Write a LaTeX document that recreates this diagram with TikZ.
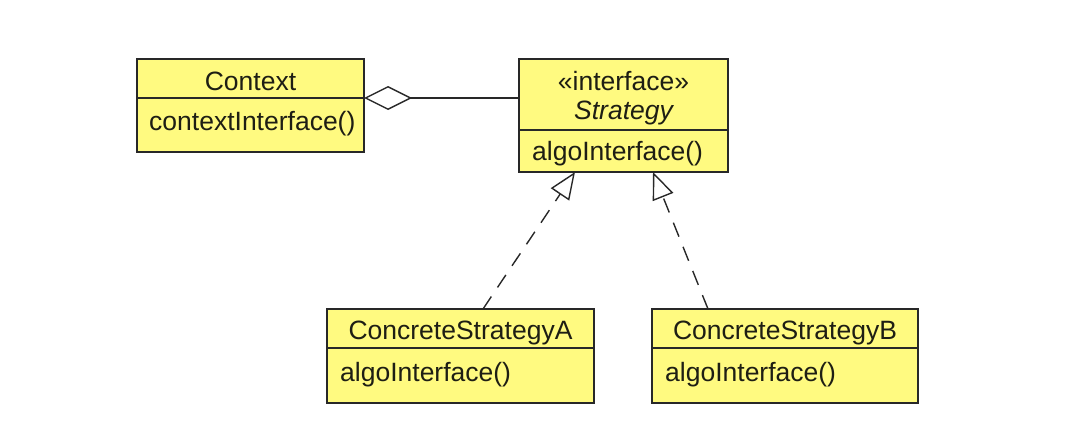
\documentclass[tikz,border=0pt]{standalone}
\usepackage{fontspec}
\setmainfont{Liberation Sans}
\usetikzlibrary{arrows.meta,calc}
\definecolor{umlfill}{RGB}{255,250,128}
\definecolor{umlline}{RGB}{40,40,40}
\definecolor{umltext}{RGB}{30,30,20}
\begin{document}
\begin{tikzpicture}[x=1pt,y=-1pt,
  box/.style={draw=umlline, fill=umlfill, line width=1.4pt, anchor=north west, inner sep=0pt, outer sep=0pt},
  divider/.style={draw=umlline, line width=1.4pt},
  txt/.style={font=\fontsize{26.5}{30}\selectfont, inner sep=0pt, text=umltext},
  aggr/.style={draw=umlline, line width=1.4pt, {Diamond[open,length=48pt,width=24pt,line width=1.4pt]}-},
  real/.style={draw=umlline, line width=1.4pt, dash pattern=on 15pt off 11pt, -{Triangle[open,length=27pt,width=22pt,line width=1.4pt]}}]
\useasboundingbox (0,0) rectangle (1081,428);

% boxes
\node[box, minimum width=227pt, minimum height=93pt] (ctx) at (137,59) {};
\node[box, minimum width=209pt, minimum height=113pt] (strat) at (519,59) {};
\node[box, minimum width=267pt, minimum height=94pt] (csa) at (327,309) {};
\node[box, minimum width=266pt, minimum height=94pt] (csb) at (652,309) {};

% dividers
\draw[divider] (ctx.west |- 0,98) -- (ctx.east |- 0,98);
\draw[divider] (strat.west |- 0,130) -- (strat.east |- 0,130);
\draw[divider] (csa.west |- 0,348) -- (csa.east |- 0,348);
\draw[divider] (csb.west |- 0,348) -- (csb.east |- 0,348);

% texts
\node[txt, anchor=base] (ctxname) at (250.5,90) {Context};
\node[txt, anchor=base west] (ctxop) at (149,130) {contextInterface()};
\node[txt, anchor=base] (stereo) at (623.5,90) {«interface»};
\node[txt, anchor=base] (stratname) at (623.5,119) {\itshape Strategy};
\node[txt, anchor=base west] (stratop) at (532,160) {algoInterface()};
\node[txt, anchor=base] (csaname) at (460.5,339) {ConcreteStrategyA};
\node[txt, anchor=base west] (csaop) at (340,381) {algoInterface()};
\node[txt, anchor=base] (csbname) at (785,339) {ConcreteStrategyB};
\node[txt, anchor=base west] (csbop) at (665,381) {algoInterface()};

% connectors
\coordinate (aggL) at ([yshift=-39pt]ctx.north east);
\draw[aggr] (aggL) -- (aggL -| strat.west);
\draw[real] ([xshift=22.5pt]csa.north) -- ([xshift=-48.5pt]strat.south);
\draw[real] ([xshift=-77pt]csb.north) -- ([xshift=29.5pt]strat.south);
\end{tikzpicture}
\end{document}
